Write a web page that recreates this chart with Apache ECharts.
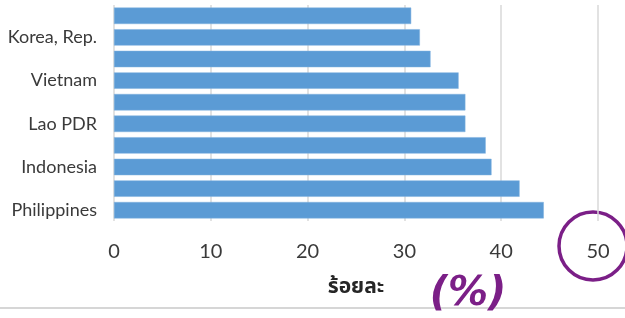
<!DOCTYPE html>
<html>
<head>
<meta charset="utf-8">
<script src="https://cdn.jsdelivr.net/npm/echarts@6/dist/echarts.min.js"></script>
<style>
html,body{margin:0;padding:0;background:#fff;}
#chart{width:625px;height:318px;}
</style>
</head>
<body>
<div id="chart"></div>
<script>
// bottom to top
const categories = ['Philippines', '', 'Indonesia', '', 'Lao PDR', '', 'Vietnam', '', 'Korea, Rep.', ''];
const values = [44.4, 41.9, 39.0, 38.4, 36.3, 36.3, 35.6, 32.7, 31.6, 30.7];
const xTicks = [0, 10, 20, 30, 40, 50];
const axisTitle = 'ร้อยละ';
const note = '(%)';

const chart = echarts.init(document.getElementById('chart'), null, {renderer: 'canvas'});
const font = 'Lato, "DejaVu Sans Condensed", sans-serif';
chart.setOption({
  animation: false,
  backgroundColor: '#ffffff',
  grid: {left: 114, right: 27, top: 5, bottom: 97, containLabel: false, outerBoundsMode: 'none'},
  xAxis: {
    type: 'value',
    min: xTicks[0], max: xTicks[xTicks.length - 1], interval: 10,
    axisLine: {show: false},
    axisTick: {show: false},
    splitLine: {show: true, lineStyle: {color: '#d9d9d9', width: 1.5}},
    axisLabel: {color: '#3a3a3a', fontSize: 20, fontFamily: font, margin: 21},
    name: axisTitle,
    nameLocation: 'middle',
    nameGap: 57,
    nameTextStyle: {color: '#262626', fontSize: 21, fontWeight: 'bold', fontFamily: '"Noto Sans Thai", "Noto Sans", "DejaVu Sans", sans-serif'}
  },
  yAxis: {
    type: 'category',
    data: categories,
    axisLine: {show: false},
    axisTick: {show: false},
    axisLabel: {color: '#3a3a3a', fontSize: 18, fontFamily: font, margin: 17, interval: 0}
  },
  series: [{
    type: 'bar',
    data: values,
    barCategoryGap: '24%',
    itemStyle: {color: '#5b9bd5', borderColor: '#7fb1de', borderWidth: 0.5}
  }],
  graphic: [
    {type: 'line', shape: {x1: 0, y1: 308, x2: 625, y2: 308}, style: {stroke: '#d6d6d6', lineWidth: 2}},
    {type: 'circle', shape: {cx: 593, cy: 246, r: 34}, style: {fill: 'none', stroke: '#7b1f87', lineWidth: 3.5}},
    {type: 'text', x: 468, y: 295, style: {text: note, fill: '#7b1f87', font: 'bold italic 40px "DejaVu Sans", sans-serif', textAlign: 'center', textVerticalAlign: 'middle'}}
  ]
});
</script>
</body>
</html>
